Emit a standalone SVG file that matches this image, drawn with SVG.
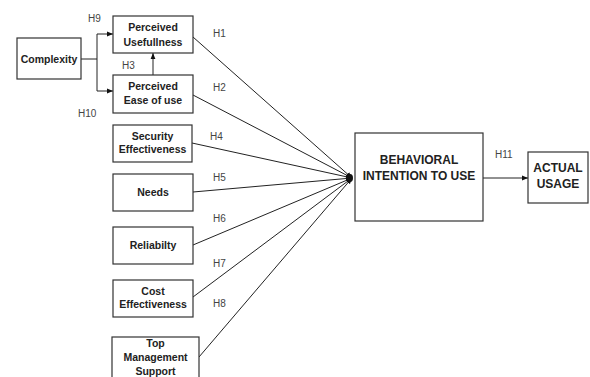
<svg xmlns="http://www.w3.org/2000/svg" width="590" height="377" viewBox="0 0 590 377">
<defs>
<style>
.box{fill:#fff;stroke:#333;stroke-width:1.2}
.t{font-family:"Liberation Sans",Arial,sans-serif;font-weight:bold;font-size:10.5px;fill:#222;text-anchor:middle}
.big{font-size:12px}
.h{font-family:"Liberation Sans",Arial,sans-serif;font-size:10px;fill:#444}
.ln{stroke:#222;stroke-width:1;fill:none}
</style>
<marker id="ah" viewBox="0 0 10 10" refX="10" refY="5" markerWidth="6" markerHeight="6" markerUnits="userSpaceOnUse" orient="auto">
<path d="M0,1 L10,5 L0,9 z" fill="#111"/>
</marker>
</defs>
<rect width="590" height="377" fill="#fff"/>
<g id="connectors">
<path class="ln" d="M81,59 H97 M97,34 V91"/>
<path class="ln" d="M97,34 H113" marker-end="url(#ah)"/>
<path class="ln" d="M97,91 H113" marker-end="url(#ah)"/>
<path class="ln" d="M153,75 V53" marker-end="url(#ah)"/>
<path class="ln" d="M193,37 L352,178" marker-end="url(#ah)"/>
<path class="ln" d="M193,95 L352,178" marker-end="url(#ah)"/>
<path class="ln" d="M192,143 L352,178" marker-end="url(#ah)"/>
<path class="ln" d="M193,192 L352,178" marker-end="url(#ah)"/>
<path class="ln" d="M193,245 L352,178" marker-end="url(#ah)"/>
<path class="ln" d="M193,297 L352,178" marker-end="url(#ah)"/>
<path class="ln" d="M199,357 L352,178" marker-end="url(#ah)"/>
<ellipse cx="350" cy="178" rx="3" ry="4" fill="#111"/>
<path class="ln" d="M483,178 H528" marker-end="url(#ah)"/>
</g>
<g id="labels">
<text class="h" x="88" y="22">H9</text>
<text class="h" x="78" y="117">H10</text>
<text class="h" x="122" y="69">H3</text>
<text class="h" x="213" y="37">H1</text>
<text class="h" x="213" y="91">H2</text>
<text class="h" x="210" y="140">H4</text>
<text class="h" x="213" y="181">H5</text>
<text class="h" x="213" y="222">H6</text>
<text class="h" x="213" y="267">H7</text>
<text class="h" x="213" y="307">H8</text>
<text class="h" x="495" y="158">H11</text>
</g>
<g id="complexity"><rect class="box" x="17" y="38" width="64" height="41"/><text class="t" x="49" y="63">Complexity</text></g>
<g id="usefulness"><rect class="box" x="113" y="16" width="80" height="37"/><text class="t" x="153" y="31">Perceived</text><text class="t" x="153" y="46">Usefullness</text></g>
<g id="ease"><rect class="box" x="113" y="75" width="80" height="38"/><text class="t" x="153" y="90">Perceived</text><text class="t" x="153" y="104">Ease of use</text></g>
<g id="security"><rect class="box" x="113" y="125" width="79" height="37"/><text class="t" x="152.5" y="140">Security</text><text class="t" x="152.5" y="153">Effectiveness</text></g>
<g id="needs"><rect class="box" x="113" y="174" width="80" height="37"/><text class="t" x="153" y="196">Needs</text></g>
<g id="reliability"><rect class="box" x="113" y="227" width="80" height="37"/><text class="t" x="153" y="249">Reliabilty</text></g>
<g id="cost"><rect class="box" x="113" y="280" width="80" height="37"/><text class="t" x="153" y="295">Cost</text><text class="t" x="153" y="308">Effectiveness</text></g>
<g id="topmgmt"><rect class="box" x="112" y="337" width="87" height="50"/><text class="t" x="155.5" y="347">Top</text><text class="t" x="155.5" y="361">Management</text><text class="t" x="155.5" y="375">Support</text></g>
<g id="behavioral"><rect class="box" x="355" y="133" width="128" height="88"/><text class="t big" x="419" y="164">BEHAVIORAL</text><text class="t big" x="419" y="180">INTENTION TO USE</text></g>
<g id="actual"><rect class="box" x="528" y="152" width="60" height="51"/><text class="t big" x="558" y="172">ACTUAL</text><text class="t big" x="558" y="188">USAGE</text></g>
</svg>
